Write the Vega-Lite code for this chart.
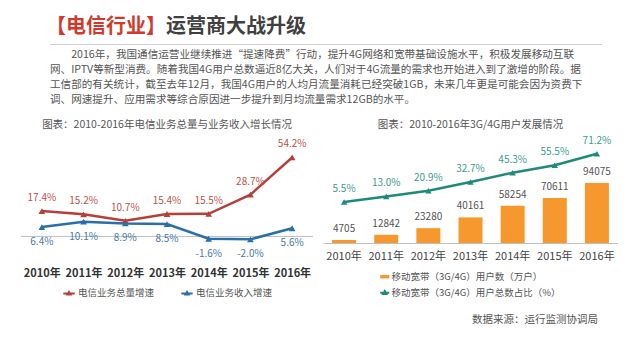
{
  "$schema": "https://vega.github.io/schema/vega-lite/v6.json",
  "background": "white",
  "padding": {"left": 20, "top": 16, "right": 0, "bottom": 0},
  "spacing": 0,
  "config": {
    "font": "Noto Sans CJK SC",
    "view": {"stroke": null},
    "locale": {"number": {"decimal": ".", "thousands": ",", "grouping": [3], "currency": ["", ""], "minus": "-"}},
    "title": {"offset": 0},
    "legend": {"layout": {"anchor": "middle"}}
  },
  "title": {"text": "数据来源：运行监测协调局", "orient": "bottom", "anchor": "end", "fontSize": 10.5, "fontWeight": "normal", "color": "#555555", "offset": 16, "dx": -20},
  "vconcat": [
    {
      "spacing": 0,
      "hconcat": [
        {
          "width": 1, "height": 1,
          "data": {"values": [{}]},
          "mark": {"type": "text"},
          "encoding": {"text": {"value": ""}},
          "title": {"text": "【电信行业】", "anchor": "start", "fontSize": 20, "fontWeight": "bold", "color": "#d0392b", "dx": 25, "offset": -10}
        },
        {
          "width": 1, "height": 1,
          "data": {"values": [{}]},
          "mark": {"type": "text"},
          "encoding": {"text": {"value": ""}},
          "title": {"text": "运营商大战升级", "anchor": "start", "fontSize": 20, "fontWeight": "bold", "color": "#404040", "offset": -10}
        }
      ]
    },
    {
      "spacing": 27,
      "hconcat": [
        {
          "width": 1, "height": 1,
          "data": {"values": [{}]},
          "mark": {"type": "text"},
          "encoding": {"text": {"value": ""}}
        },
        {
          "width": 552, "height": 74.5,
          "data": {"values": [
            {"line": 1, "text": "\u200b\u3000\u30002016年，我国通信运营业继续推进“提速降费”行动，提升4G网络和宽带基础设施水平，积极发展移动互联"},
            {"line": 2, "text": "网、IPTV等新型消费。随着我国4G用户总数逼近8亿大关，人们对于4G流量的需求也开始进入到了激增的阶段。据"},
            {"line": 3, "text": "工信部的有关统计，截至去年12月，我国4G用户的人均月流量消耗已经突破1GB，未来几年更是可能会因为资费下"},
            {"line": 4, "text": "调、网速提升、应用需求等综合原因进一步提升到月均流量需求12GB的水平。"}
          ]},
          "layer": [
            {
              "mark": {"type": "rule", "color": "#d0d0d0", "strokeWidth": 1},
              "encoding": {"y": {"datum": 0.3, "type": "quantitative", "scale": {"domain": [0.267, 5.233], "reverse": true}, "axis": null}}
            },
            {
              "mark": {"type": "text", "align": "left", "baseline": "middle", "fontSize": 10.6, "color": "#555555"},
              "encoding": {
                "x": {"datum": 0, "type": "quantitative", "scale": {"domain": [0, 1]}, "axis": null},
                "y": {"field": "line", "type": "quantitative", "scale": {"domain": [0.267, 5.233], "reverse": true}, "axis": null},
                "text": {"field": "text", "type": "nominal"}
              }
            }
          ]
        }
      ]
    },
    {
      "spacing": 9,
      "resolve": {"scale": {"color": "independent"}, "legend": {"color": "independent"}},
      "hconcat": [
        {
          "width": 292, "height": 102,
          "title": {"text": "图表：2010-2016年电信业务总量与业务收入增长情况", "anchor": "middle", "fontSize": 10.5, "fontWeight": "normal", "color": "#555555", "offset": 9},
          "data": {"values": [
            {"year": "2010年", "series": "电信业务总量增速", "value": 0.174},
            {"year": "2011年", "series": "电信业务总量增速", "value": 0.152},
            {"year": "2012年", "series": "电信业务总量增速", "value": 0.107},
            {"year": "2013年", "series": "电信业务总量增速", "value": 0.154},
            {"year": "2014年", "series": "电信业务总量增速", "value": 0.155},
            {"year": "2015年", "series": "电信业务总量增速", "value": 0.287},
            {"year": "2016年", "series": "电信业务总量增速", "value": 0.542},
            {"year": "2010年", "series": "电信业务收入增速", "value": 0.064},
            {"year": "2011年", "series": "电信业务收入增速", "value": 0.101},
            {"year": "2012年", "series": "电信业务收入增速", "value": 0.089},
            {"year": "2013年", "series": "电信业务收入增速", "value": 0.085},
            {"year": "2014年", "series": "电信业务收入增速", "value": -0.016},
            {"year": "2015年", "series": "电信业务收入增速", "value": -0.020},
            {"year": "2016年", "series": "电信业务收入增速", "value": 0.056}
          ]},
          "layer": [
            {
              "data": {"values": [{}]},
              "mark": {"type": "rule", "color": "#bfbfbf", "strokeWidth": 1},
              "encoding": {"y": {"datum": 0, "type": "quantitative", "scale": {"domain": [-0.06, 0.6]}, "axis": null}}
            },
            {
              "mark": {"type": "line", "strokeWidth": 2.5},
              "encoding": {
                "x": {"field": "year", "type": "nominal", "sort": null, "scale": {"paddingInner": 0, "paddingOuter": 0},
                      "axis": {"title": null, "domain": false, "ticks": false, "labelPadding": 16, "labelFontSize": 11, "labelColor": "#333333", "labelFontWeight": "bold", "labelAngle": 0}},
                "y": {"field": "value", "type": "quantitative", "scale": {"domain": [-0.06, 0.6]}, "axis": null},
                "color": {"field": "series", "type": "nominal", "sort": null,
                          "scale": {"domain": ["电信业务总量增速", "电信业务收入增速"], "range": ["#b5403a", "#2a6fa8"]},
                          "legend": {"title": null, "orient": "bottom", "direction": "horizontal", "offset": 8, "labelFontSize": 9.5, "labelColor": "#555555", "labelLimit": 300,
                                     "symbolType": "M-1,0H1M-0.26,0.2L0,-0.26L0.26,0.2Z", "symbolSize": 130, "symbolStrokeWidth": 2, "columnPadding": 22, "labelOffset": 2,
                                     "encode": {"symbols": {"update": {"fill": {"scale": "color", "field": "value"}, "stroke": {"scale": "color", "field": "value"}}}}}}
              }
            },
            {
              "mark": {"type": "point", "shape": "triangle-up", "filled": true, "size": 45, "opacity": 1},
              "encoding": {
                "x": {"field": "year", "type": "nominal", "sort": null},
                "y": {"field": "value", "type": "quantitative"},
                "color": {"field": "series", "type": "nominal", "sort": null}
              }
            },
            {
              "transform": [{"filter": "datum.series === '电信业务总量增速'"}],
              "mark": {"type": "text", "dy": -13, "fontSize": 10, "color": "#b9534b"},
              "encoding": {
                "x": {"field": "year", "type": "nominal", "sort": null},
                "y": {"field": "value", "type": "quantitative"},
                "text": {"field": "value", "type": "quantitative", "format": ".1%"}
              }
            },
            {
              "transform": [{"filter": "datum.series === '电信业务收入增速'"}],
              "mark": {"type": "text", "dy": 15, "fontSize": 10, "color": "#4a7aa8"},
              "encoding": {
                "x": {"field": "year", "type": "nominal", "sort": null},
                "y": {"field": "value", "type": "quantitative"},
                "text": {"field": "value", "type": "quantitative", "format": ".1%"}
              }
            }
          ]
        },
        {
          "width": 295, "height": 94,
          "title": {"text": "图表：2010-2016年3G/4G用户发展情况", "anchor": "middle", "fontSize": 10.5, "fontWeight": "normal", "color": "#555555", "offset": 5},
          "data": {"values": [
            {"year": "2010年", "users": 4705, "share": 0.055},
            {"year": "2011年", "users": 12842, "share": 0.130},
            {"year": "2012年", "users": 23280, "share": 0.209},
            {"year": "2013年", "users": 40161, "share": 0.327},
            {"year": "2014年", "users": 58254, "share": 0.453},
            {"year": "2015年", "users": 70611, "share": 0.555},
            {"year": "2016年", "users": 94075, "share": 0.712}
          ]},
          "resolve": {"scale": {"y": "independent"}},
          "layer": [
            {
              "mark": {"type": "bar", "color": "#f7982f"},
              "encoding": {
                "x": {"field": "year", "type": "nominal", "sort": null, "scale": {"paddingInner": 0.43, "paddingOuter": 0.215},
                      "axis": {"title": null, "domain": true, "domainColor": "#bfbfbf", "ticks": false, "labelPadding": 7, "labelFontSize": 11, "labelColor": "#444444", "labelAngle": 0}},
                "y": {"field": "users", "type": "quantitative", "scale": {"domain": [0, 147384]}, "axis": null},
                "color": {"datum": "移动宽带（3G/4G）用户数（万户）",
                          "scale": {"domain": ["移动宽带（3G/4G）用户数（万户）", "移动宽带（3G/4G）用户总数占比（%）"], "range": ["#f7982f", "#1e8a7a"]},
                          "legend": {"title": null, "orient": "bottom", "direction": "vertical", "offset": 11, "labelFontSize": 9.5, "labelColor": "#555555", "labelLimit": 300,
                                     "symbolSize": 81, "rowPadding": 5, "labelOffset": 2,
                                     "encode": {"symbols": {"update": {
                                       "shape": {"signal": "datum.value === '移动宽带（3G/4G）用户数（万户）' ? 'M-1,-0.38H1V0.38H-1Z' : 'M-1,0H1M-0.38,0.3L0,-0.38L0.38,0.3Z'"},
                                       "fill": {"scale": "color", "field": "value"},
                                       "stroke": {"scale": "color", "field": "value"},
                                       "strokeWidth": {"signal": "datum.value === '移动宽带（3G/4G）用户数（万户）' ? 0 : 2"},
                                       "opacity": {"value": 1}}}}}}
              }
            },
            {
              "mark": {"type": "text", "dy": -11, "fontSize": 10, "color": "#555555"},
              "encoding": {
                "x": {"field": "year", "type": "nominal", "sort": null},
                "y": {"field": "users", "type": "quantitative", "scale": {"domain": [0, 147384]}, "axis": null},
                "text": {"field": "users", "type": "quantitative", "format": "d"}
              }
            },
            {
              "mark": {"type": "line", "strokeWidth": 2.5},
              "encoding": {
                "x": {"field": "year", "type": "nominal", "sort": null},
                "y": {"field": "share", "type": "quantitative", "scale": {"domain": [-0.503, 0.776]}, "axis": null},
                "color": {"datum": "移动宽带（3G/4G）用户总数占比（%）"}
              }
            },
            {
              "mark": {"type": "point", "shape": "triangle-up", "filled": true, "size": 40, "opacity": 1},
              "encoding": {
                "x": {"field": "year", "type": "nominal", "sort": null},
                "y": {"field": "share", "type": "quantitative", "scale": {"domain": [-0.503, 0.776]}, "axis": null},
                "color": {"datum": "移动宽带（3G/4G）用户总数占比（%）"}
              }
            },
            {
              "mark": {"type": "text", "dy": -13, "fontSize": 10, "color": "#3d9a8c"},
              "encoding": {
                "x": {"field": "year", "type": "nominal", "sort": null},
                "y": {"field": "share", "type": "quantitative", "scale": {"domain": [-0.503, 0.776]}, "axis": null},
                "text": {"field": "share", "type": "quantitative", "format": ".1%"}
              }
            }
          ]
        }
      ]
    }
  ]
}
